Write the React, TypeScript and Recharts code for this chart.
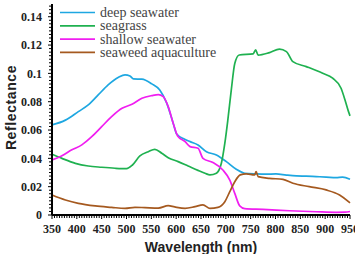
import React from 'react';
import { LineChart, Line, XAxis, YAxis } from 'recharts';

// wavelength (nm) / reflectance readings for each water type
const deepWl = [350, 377, 403, 423, 443, 463, 484, 497, 507, 514, 531, 551, 567, 581, 594, 601, 617, 628, 644, 661, 681, 701, 721, 738, 761, 780, 801, 822, 842, 862, 882, 902, 922, 935, 950];
const deepVal = [0.0636, 0.067, 0.073, 0.0777, 0.0848, 0.0919, 0.0973, 0.099, 0.0982, 0.0961, 0.0959, 0.0926, 0.0883, 0.079, 0.0648, 0.0572, 0.0535, 0.0518, 0.0495, 0.0447, 0.0424, 0.0377, 0.0323, 0.0295, 0.029, 0.0288, 0.029, 0.0282, 0.0276, 0.0274, 0.0271, 0.0268, 0.0264, 0.0268, 0.0252];

const grassWl = [350, 370, 397, 423, 450, 477, 500, 512, 527, 544, 557, 571, 584, 604, 624, 644, 658, 668, 681, 691, 698, 704, 711, 718, 727, 755, 760, 765, 788, 808, 822, 835, 862, 895, 915, 932, 941, 947, 950];
const grassVal = [0.0429, 0.04, 0.0365, 0.0346, 0.0337, 0.033, 0.0327, 0.0353, 0.0417, 0.0447, 0.0464, 0.0436, 0.0405, 0.0377, 0.0346, 0.0315, 0.0295, 0.0283, 0.0295, 0.0365, 0.0507, 0.067, 0.0883, 0.107, 0.113, 0.1138, 0.1166, 0.1129, 0.1147, 0.1171, 0.1154, 0.1083, 0.1048, 0.1001, 0.0966, 0.0895, 0.08, 0.073, 0.07];

const shallowWl = [350, 370, 390, 410, 430, 450, 470, 491, 511, 531, 551, 564, 574, 584, 594, 603, 618, 628, 644, 654, 674, 694, 708, 718, 728, 738, 775, 828, 882, 922, 940, 950];
const shallowVal = [0.0389, 0.0419, 0.046, 0.0495, 0.0553, 0.0624, 0.0695, 0.0754, 0.0782, 0.0824, 0.0843, 0.085, 0.0836, 0.0765, 0.0648, 0.0558, 0.0518, 0.0483, 0.0471, 0.040, 0.037, 0.0318, 0.0247, 0.0153, 0.0064, 0.0045, 0.004, 0.003, 0.0023, 0.0019, 0.002, 0.0025];

const weedWl = [350, 377, 403, 437, 470, 497, 517, 537, 564, 584, 597, 618, 638, 654, 668, 684, 698, 708, 718, 729, 741, 758, 761, 765, 788, 815, 835, 868, 902, 929, 947, 950];
const weedVal = [0.0141, 0.0106, 0.0082, 0.0064, 0.0054, 0.0047, 0.0054, 0.0052, 0.0049, 0.0066, 0.0057, 0.0047, 0.0059, 0.0071, 0.0047, 0.0054, 0.0094, 0.0165, 0.0235, 0.0283, 0.029, 0.0283, 0.0306, 0.0271, 0.0259, 0.0252, 0.0224, 0.02, 0.0177, 0.0141, 0.0094, 0.0085];

const xLabels = [350, 400, 450, 500, 550, 600, 650, 700, 750, 800, 850, 900, 950];

const toPoints = (wl: number[], v: number[]) => wl.map((w, i) => ({ wl: w, v: v[i] }));

const series = [
  { name: 'deep seawater', color: '#1ea7e1', data: toPoints(deepWl, deepVal) },
  { name: 'seagrass', color: '#1fb150', data: toPoints(grassWl, grassVal) },
  { name: 'shallow seawater', color: '#f01ef0', data: toPoints(shallowWl, shallowVal) },
  { name: 'seaweed aquaculture', color: '#a5591f', data: toPoints(weedWl, weedVal) },
];

// minor ticks every 5 nm and every 0.0025, labels only on the majors
const xTicks: number[] = [];
for (let w = 350; w <= 950; w += 5) xTicks.push(w);
const yTicks: number[] = [];
for (let i = 0; i <= 59; i++) yTicks.push(i * 0.0025);

const serif = "'Liberation Serif', 'Times New Roman', Times, 'DejaVu Serif', serif";

const XTick = ({ x, y, payload }: any) => {
  const major = xLabels.includes(payload.value);
  return (
    <g>
      <line x1={x} x2={x} y1={y} y2={y + (major ? 4 : 3)} stroke="#000" strokeWidth={1} />
      {major && (
        <text x={x} y={y + 18} textAnchor="middle" fill="#222" fontFamily={serif} fontWeight={700} fontSize={12}>
          {payload.value}
        </text>
      )}
    </g>
  );
};

const YTick = ({ x, y, payload }: any) => {
  const major = Math.round(payload.value * 10000) % 200 === 0;
  return (
    <g>
      <line x1={x} x2={x - (major ? 4 : 3)} y1={y} y2={y} stroke="#000" strokeWidth={1} />
      {major && (
        <text x={x - 10} y={y} dy="0.35em" textAnchor="end" fill="#222" fontFamily={serif} fontWeight={700} fontSize={12}>
          {String(Math.round(payload.value * 100) / 100)}
        </text>
      )}
    </g>
  );
};

const sans = "'Liberation Sans', Arial, sans-serif";

const App = () => (
  <div style={{ position: 'absolute', left: 0, top: 0, width: 355, height: 254, background: '#fff' }}>
    <LineChart width={355} height={254} data={series[0].data} margin={{ top: 4, right: 5, left: 0, bottom: 0 }}>
      <XAxis
        dataKey="wl"
        type="number"
        domain={[350, 950]}
        ticks={xTicks}
        interval={0}
        tickSize={0}
        tickMargin={0}
        tick={<XTick />}
        height={39}
        axisLine={{ stroke: '#000', strokeWidth: 2 }}
        label={{
          content: ({ viewBox }: any) => (
            <text x={viewBox.x + viewBox.width / 2} y={viewBox.y + 37} textAnchor="middle" fill="#222" fontFamily={sans} fontWeight={700} fontSize={14}>
              Wavelength (nm)
            </text>
          ),
        }}
      />
      <XAxis xAxisId="top" orientation="top" type="number" domain={[350, 950]} height={0} tick={false} tickLine={false} axisLine={{ stroke: '#000', strokeWidth: 2 }} />
      <YAxis
        type="number"
        domain={[0, 0.149]}
        ticks={yTicks}
        interval={0}
        tickSize={0}
        tickMargin={0}
        tick={<YTick />}
        width={52}
        allowDataOverflow
        axisLine={{ stroke: '#000', strokeWidth: 2 }}
        label={{
          content: ({ viewBox }: any) => {
            const cx = 11;
            const cy = viewBox.y + viewBox.height / 2 - 2;
            return (
              <text x={cx} y={cy} transform={`rotate(-90 ${cx} ${cy})`} textAnchor="middle" dominantBaseline="central" letterSpacing={0.6} fill="#222" fontFamily={sans} fontWeight={700} fontSize={14}>
                Reflectance
              </text>
            );
          },
        }}
      />
      <YAxis yAxisId="right" orientation="right" type="number" domain={[0, 1]} width={0} tick={false} tickLine={false} axisLine={{ stroke: '#000', strokeWidth: 2 }} />
      {series.map((s) => (
        <Line
          key={s.name}
          data={s.data}
          dataKey="v"
          name={s.name}
          type="monotone"
          stroke={s.color}
          strokeWidth={1.7}
          dot={false}
          isAnimationActive={false}
        />
      ))}
    </LineChart>
    <svg width={355} height={254} style={{ position: 'absolute', left: 0, top: 0, pointerEvents: 'none' }}>
      {series.map((s, i) => {
        const y = 12.5 + i * 13.3;
        return (
          <g key={s.name}>
            <line x1={60} x2={95} y1={y} y2={y} stroke={s.color} strokeWidth={1.7} />
            <text x={100} y={y} dominantBaseline="central" fill="#444" fontFamily={serif} fontSize={14}>
              {s.name}
            </text>
          </g>
        );
      })}
    </svg>
  </div>
);

export default App;
